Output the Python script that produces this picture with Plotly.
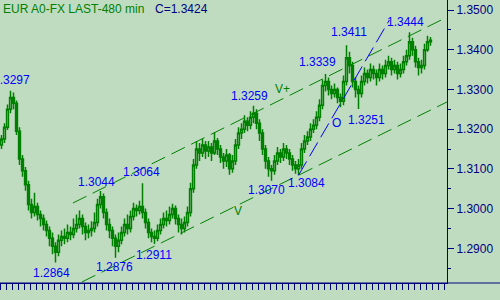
import plotly.graph_objects as go

# ---------------- data ----------------
open_ = [
    1.3160, 1.3175, 1.3205, 1.3250, 1.3280, 1.3265, 1.3195, 1.3125, 1.3095, 1.3060,
    1.3010, 1.2990, 1.3005, 1.2985, 1.2975, 1.2960, 1.2945, 1.2925, 1.2905, 1.2890,
    1.2920, 1.2930, 1.2925, 1.2940, 1.2935, 1.2950, 1.2960, 1.2975, 1.2955, 1.2940,
    1.2945, 1.2950, 1.2965, 1.3010, 1.3030, 1.2990, 1.2960, 1.2945, 1.2925, 1.2905,
    1.2920, 1.2940, 1.2960, 1.2950, 1.2980, 1.3000, 1.2995, 1.3005, 1.2990, 1.2965,
    1.2940, 1.2930, 1.2925, 1.2945, 1.2960, 1.2975, 1.2970, 1.2985, 1.3000, 1.2975,
    1.2960, 1.2950, 1.2965, 1.2990, 1.3050, 1.3110, 1.3150, 1.3140, 1.3160, 1.3145,
    1.3155, 1.3140, 1.3170, 1.3150, 1.3130, 1.3120, 1.3135, 1.3100, 1.3120, 1.3160,
    1.3190, 1.3200, 1.3220, 1.3210, 1.3230, 1.3240, 1.3215, 1.3190, 1.3150, 1.3120,
    1.3100, 1.3095, 1.3120, 1.3140, 1.3130, 1.3150, 1.3140, 1.3125, 1.3110, 1.3100,
    1.3110, 1.3150, 1.3170, 1.3180, 1.3200, 1.3210, 1.3230, 1.3260, 1.3310, 1.3320,
    1.3300, 1.3290, 1.3300, 1.3280, 1.3270, 1.3320, 1.3380, 1.3360, 1.3320, 1.3300,
    1.3290, 1.3320, 1.3340, 1.3330, 1.3350, 1.3340, 1.3330, 1.3350, 1.3340, 1.3360,
    1.3370, 1.3350, 1.3360, 1.3340, 1.3350, 1.3370, 1.3385, 1.3420, 1.3400, 1.3370,
    1.3355, 1.3360, 1.3400, 1.3420,
]
high = [
    1.3185, 1.3215, 1.3262, 1.3297, 1.3292, 1.3272, 1.3205, 1.3135, 1.3105, 1.3070,
    1.3025, 1.3040, 1.3015, 1.2995, 1.2985, 1.2970, 1.2955, 1.2940, 1.2915, 1.2935,
    1.2945, 1.2950, 1.2960, 1.2955, 1.2975, 1.2985, 1.2995, 1.2985, 1.2965, 1.2960,
    1.2968, 1.2990, 1.3025, 1.3044, 1.3038, 1.3000, 1.2975, 1.2955, 1.2935, 1.2940,
    1.2955, 1.2975, 1.2985, 1.2995, 1.3015, 1.3010, 1.3020, 1.3064, 1.3000, 1.2975,
    1.2950, 1.2945, 1.2960, 1.2975, 1.2990, 1.2995, 1.3005, 1.3012, 1.3008, 1.2985,
    1.2975, 1.2980, 1.3005, 1.3065, 1.3125, 1.3170, 1.3165, 1.3175, 1.3170, 1.3170,
    1.3165, 1.3192, 1.3178, 1.3160, 1.3140, 1.3150, 1.3140, 1.3135, 1.3175, 1.3205,
    1.3215, 1.3235, 1.3230, 1.3245, 1.3259, 1.3250, 1.3225, 1.3200, 1.3160, 1.3130,
    1.3110, 1.3135, 1.3155, 1.3150, 1.3165, 1.3160, 1.3150, 1.3135, 1.3120, 1.3125,
    1.3165, 1.3185, 1.3195, 1.3215, 1.3225, 1.3245, 1.3275, 1.3325, 1.3339, 1.3330,
    1.3310, 1.3315, 1.3305, 1.3290, 1.3335, 1.3411, 1.3395, 1.3370, 1.3330, 1.3310,
    1.3335, 1.3355, 1.3350, 1.3365, 1.3360, 1.3350, 1.3365, 1.3360, 1.3375, 1.3385,
    1.3380, 1.3375, 1.3370, 1.3365, 1.3385, 1.3400, 1.3444, 1.3430, 1.3410, 1.3380,
    1.3375, 1.3415, 1.3435, 1.3432,
]
low = [
    1.3150, 1.3165, 1.3198, 1.3240, 1.3250, 1.3185, 1.3110, 1.3080, 1.3045, 1.2995,
    1.2975, 1.2980, 1.2970, 1.2955, 1.2945, 1.2930, 1.2905, 1.2885, 1.2864, 1.2880,
    1.2905, 1.2910, 1.2915, 1.2920, 1.2925, 1.2940, 1.2950, 1.2935, 1.2920, 1.2925,
    1.2930, 1.2940, 1.2955, 1.3000, 1.2975, 1.2945, 1.2925, 1.2905, 1.2876, 1.2890,
    1.2910, 1.2930, 1.2935, 1.2940, 1.2970, 1.2980, 1.2985, 1.2975, 1.2950, 1.2925,
    1.2915, 1.2911, 1.2918, 1.2935, 1.2950, 1.2955, 1.2960, 1.2975, 1.2960, 1.2940,
    1.2935, 1.2940, 1.2955, 1.2980, 1.3040, 1.3100, 1.3120, 1.3130, 1.3125, 1.3130,
    1.3120, 1.3135, 1.3135, 1.3115, 1.3100, 1.3105, 1.3085, 1.3090, 1.3110, 1.3150,
    1.3175, 1.3190, 1.3195, 1.3200, 1.3215, 1.3200, 1.3170, 1.3135, 1.3100, 1.3080,
    1.3070, 1.3085, 1.3110, 1.3115, 1.3120, 1.3125, 1.3110, 1.3095, 1.3088, 1.3084,
    1.3100, 1.3140, 1.3160, 1.3170, 1.3190, 1.3200, 1.3220, 1.3250, 1.3295, 1.3285,
    1.3275, 1.3280, 1.3265, 1.3255, 1.3260, 1.3310, 1.3340, 1.3305, 1.3280, 1.3251,
    1.3280, 1.3310, 1.3315, 1.3320, 1.3325, 1.3310, 1.3320, 1.3325, 1.3330, 1.3350,
    1.3335, 1.3340, 1.3325, 1.3330, 1.3340, 1.3360, 1.3375, 1.3385, 1.3355, 1.3335,
    1.3340, 1.3350, 1.3395, 1.3410,
]
close = [
    1.3175, 1.3205, 1.3250, 1.3280, 1.3265, 1.3195, 1.3125, 1.3095, 1.3060, 1.3010,
    1.2990, 1.3005, 1.2985, 1.2975, 1.2960, 1.2945, 1.2925, 1.2905, 1.2890, 1.2920,
    1.2930, 1.2925, 1.2940, 1.2935, 1.2950, 1.2960, 1.2975, 1.2955, 1.2940, 1.2945,
    1.2950, 1.2965, 1.3010, 1.3030, 1.2990, 1.2960, 1.2945, 1.2925, 1.2905, 1.2920,
    1.2940, 1.2960, 1.2950, 1.2980, 1.3000, 1.2995, 1.3005, 1.2990, 1.2965, 1.2940,
    1.2930, 1.2925, 1.2945, 1.2960, 1.2975, 1.2970, 1.2985, 1.3000, 1.2975, 1.2960,
    1.2950, 1.2965, 1.2990, 1.3050, 1.3110, 1.3150, 1.3140, 1.3160, 1.3145, 1.3155,
    1.3140, 1.3170, 1.3150, 1.3130, 1.3120, 1.3135, 1.3100, 1.3120, 1.3160, 1.3190,
    1.3200, 1.3220, 1.3210, 1.3230, 1.3240, 1.3215, 1.3190, 1.3150, 1.3120, 1.3100,
    1.3095, 1.3120, 1.3140, 1.3130, 1.3150, 1.3140, 1.3125, 1.3110, 1.3100, 1.3110,
    1.3150, 1.3170, 1.3180, 1.3200, 1.3210, 1.3230, 1.3260, 1.3310, 1.3320, 1.3300,
    1.3290, 1.3300, 1.3280, 1.3270, 1.3320, 1.3380, 1.3360, 1.3320, 1.3300, 1.3290,
    1.3320, 1.3340, 1.3330, 1.3350, 1.3340, 1.3330, 1.3350, 1.3340, 1.3360, 1.3370,
    1.3350, 1.3360, 1.3340, 1.3350, 1.3370, 1.3385, 1.3420, 1.3400, 1.3370, 1.3355,
    1.3360, 1.3400, 1.3420, 1.3424,
]
bars = list(range(len(close)))

# pivot values written on the chart
pivot_values = [1.3297, 1.2864, 1.2876, 1.2911, 1.3044, 1.3064, 1.3259,
                1.3070, 1.3084, 1.3251, 1.3339, 1.3411, 1.3444]

# trend lines (endpoints in bar index / price)
upper_x = [23.8, 148.5]
upper_y = [1.3014, 1.3482]
lower_x = [26.8, 148.5]
lower_y = [1.28152, 1.32684]
wave_x = [99.0, 129.3]
wave_y = [1.3084, 1.3475]

title_text = "EUR A0-FX LAST-480 min"

# ---------------- styling / placement ----------------
BG = "#C0DCC0"
GREEN = "#008000"
NAVY = "#000080"
BLUE = "#0000FF"
FONT = "Liberation Sans, Arial, sans-serif"

# label placement: (x in bar units, y shift in px, xanchor)
label_place = [
    (10.2, 11, "right"), (16.5, -10, "center"), (37.8, -9, "center"),
    (50.8, -11, "center"), (31.8, 9, "center"), (46.5, 11, "center"),
    (82.5, 10, "center"), (88.2, -9, "center"), (101.8, -8, "center"),
    (121.8, -11, "center"), (105.2, 12, "center"), (115.8, 13, "center"),
    (134.5, 10, "center"),
]

fig = go.Figure()

fig.add_trace(go.Candlestick(
    x=bars, open=open_, high=high, low=low, close=close,
    increasing=dict(line=dict(color=GREEN, width=1.5), fillcolor=BG),
    decreasing=dict(line=dict(color=GREEN, width=1.5), fillcolor=GREEN),
    whiskerwidth=0, hoverinfo="skip", showlegend=False,
))

for xs, ys in ((upper_x, upper_y), (lower_x, lower_y)):
    fig.add_trace(go.Scatter(x=xs, y=ys, mode="lines", hoverinfo="skip",
                             showlegend=False,
                             line=dict(color=GREEN, width=1, dash="15px,7px")))
fig.add_trace(go.Scatter(x=wave_x, y=wave_y, mode="lines", hoverinfo="skip",
                         showlegend=False,
                         line=dict(color=BLUE, width=1, dash="16px,6px")))

annotations = []
for v, (lx, dy, anc) in zip(pivot_values, label_place):
    annotations.append(dict(x=lx, y=v, xref="x", yref="y", text=f"{v:.4f}",
                            showarrow=False, yshift=dy, xanchor=anc,
                            yanchor="middle",
                            font=dict(family=FONT, size=12, color=BLUE)))
# wave / channel markers
annotations += [
    dict(x=93.8, y=1.33011, xref="x", yref="y", text="V+", showarrow=False,
         font=dict(family=FONT, size=12, color=GREEN)),
    dict(x=78.8, y=1.29939, xref="x", yref="y", text="V", showarrow=False,
         font=dict(family=FONT, size=12, color=GREEN)),
    dict(x=111.5, y=1.32155, xref="x", yref="y", text="O", showarrow=False,
         font=dict(family=FONT, size=12, color=BLUE)),
    dict(x=0.0, y=1 - 9 / 283, xref="paper", yref="paper", text=title_text,
         showarrow=False, xanchor="left", yanchor="middle", xshift=1,
         font=dict(family=FONT, size=12, color=GREEN)),
    dict(x=153 / 447, y=1 - 9 / 283, xref="paper", yref="paper",
         text=f"C={close[-1]:.4f}", showarrow=False, xanchor="left",
         yanchor="middle",
         font=dict(family=FONT, size=12, color=NAVY)),
]

fig.update_layout(
    width=500, height=300, autosize=False,
    margin=dict(l=0, r=53, t=0, b=17, pad=0),
    paper_bgcolor=BG, plot_bgcolor=BG,
    showlegend=False, boxgap=0.1,
    annotations=annotations,
    shapes=[dict(type="line", xref="paper", yref="paper", x0=0, x1=1.2,
                 y0=0, y1=0, line=dict(color=NAVY, width=1))],
    xaxis=dict(range=[-0.5, 148.5], showgrid=False, zeroline=False,
               showline=True, linecolor=NAVY, linewidth=1,
               ticks="outside", ticklen=6, tickcolor=NAVY, tickwidth=1,
               tick0=1.5, dtick=2, showticklabels=False,
               rangeslider=dict(visible=False), fixedrange=True),
    yaxis=dict(side="right", range=[1.281263, 1.352518], showgrid=False,
               zeroline=False, showline=True, linecolor=NAVY, linewidth=1,
               ticks="outside", ticklen=6, tickcolor=NAVY, tickwidth=1,
               tick0=1.29, dtick=0.01, tickformat=".4f",
               tickfont=dict(family=FONT, size=12, color=NAVY),
               minor=dict(dtick=0.005, ticks="outside", ticklen=3,
                          tickcolor=NAVY, showgrid=False),
               fixedrange=True),
)

fig.write_html("out.html", config={"displayModeBar": False})
